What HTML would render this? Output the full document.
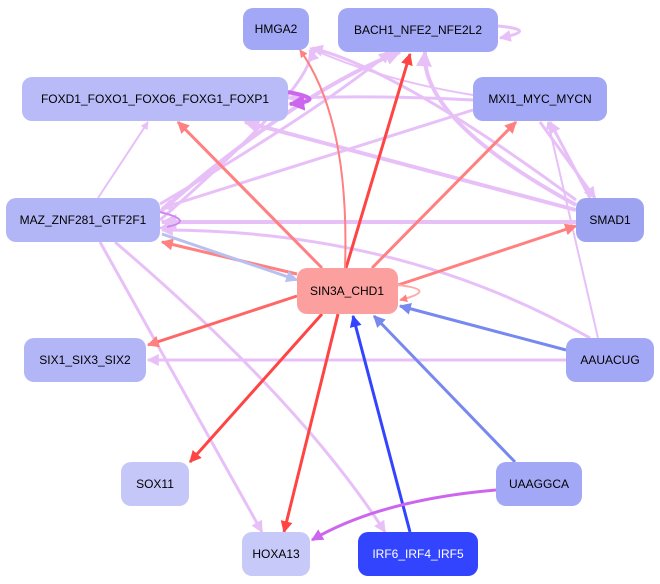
<!DOCTYPE html>
<html><head><style>
body{margin:0;background:#fff;}
svg{display:block;font-family:"Liberation Sans",sans-serif;}
text{font-size:12px;text-anchor:middle;dominant-baseline:central;}
</style></head><body>
<svg width="660" height="584" viewBox="0 0 660 584">
<defs>
<marker id="ap" viewBox="0 0 10 10" refX="9" refY="5" markerWidth="4" markerHeight="4" orient="auto"><path d="M0,0L10,5L0,10z" fill="#e8c0f8"/></marker>
<marker id="ar" viewBox="0 0 10 10" refX="9" refY="5" markerWidth="4" markerHeight="4" orient="auto"><path d="M0,0L10,5L0,10z" fill="#ff4444"/></marker>
<marker id="as" viewBox="0 0 10 10" refX="9" refY="5" markerWidth="4" markerHeight="4" orient="auto"><path d="M0,0L10,5L0,10z" fill="#ff8080"/></marker>
<marker id="ab" viewBox="0 0 10 10" refX="9" refY="5" markerWidth="4" markerHeight="4" orient="auto"><path d="M0,0L10,5L0,10z" fill="#3344ff"/></marker>
<marker id="am" viewBox="0 0 10 10" refX="9" refY="5" markerWidth="4" markerHeight="4" orient="auto"><path d="M0,0L10,5L0,10z" fill="#7788ee"/></marker>
<marker id="au" viewBox="0 0 10 10" refX="9" refY="5" markerWidth="4" markerHeight="4" orient="auto"><path d="M0,0L10,5L0,10z" fill="#cc66ee"/></marker>
<marker id="al" viewBox="0 0 10 10" refX="9" refY="5" markerWidth="4" markerHeight="4" orient="auto"><path d="M0,0L10,5L0,10z" fill="#b8c0f0"/></marker>
</defs>
<g fill="none" stroke="#e8c0f8" stroke-width="3" marker-end="url(#ap)">
<path d="M160,212 Q300,90 400,52" stroke-width="4"/>
<path d="M160,204 Q320,110 390,52"/>
<path d="M160,220 Q320,80 310,50" />
<path d="M576,205 Q420,120 425,52" stroke-width="4"/>
<path d="M576,200 Q400,70 312,48"/>
<path d="M473,95 Q380,80 310,48" stroke-width="2"/>
<path d="M576,210 L245,122" stroke-width="4"/>
<path d="M473,100 Q380,95 288,98"/>
<path d="M473,110 L162,208"/>
<path d="M576,222 L162,222" stroke-width="4"/>
<path d="M590,198 L550,122"/>
<path d="M540,122 L595,198"/>
<path d="M598,338 L548,122" stroke-width="2"/>
<path d="M566,360 L148,360"/>
<path d="M590,338 Q400,230 162,230"/>
<path d="M98,198 L148,122" stroke-width="2"/>
<path d="M100,242 L262,532"/>
<path d="M115,242 Q300,400 385,532"/>
<path d="M160,212 Q200,222 160,228" stroke="#cc88ee" stroke-width="2"/>
<path d="M498,26 Q540,30 500,38"/>
</g>
<path d="M288,92 Q330,100 290,104" fill="none" stroke="#cc66ee" stroke-width="4" marker-end="url(#au)"/>
<g fill="none" stroke-width="3">
<path d="M346,268 L410,54" stroke="#ff4444" marker-end="url(#ar)"/>
<path d="M338,314 L284,532" stroke="#ff4444" marker-end="url(#ar)"/>
<path d="M322,314 L190,462" stroke="#ff4444" marker-end="url(#ar)"/>
<path d="M345,268 Q350,120 300,50" stroke="#ff8080" stroke-width="2" marker-end="url(#as)"/>
<path d="M322,268 L178,122" stroke="#ff8080" marker-end="url(#as)"/>
<path d="M372,268 L516,122" stroke="#ff8080" marker-end="url(#as)"/>
<path d="M398,285 L576,226" stroke="#ff8080" marker-end="url(#as)"/>
<path d="M297,296 L148,345" stroke="#ff6666" marker-end="url(#as)"/>
<path d="M297,274 L162,242" stroke="#ff8080" marker-end="url(#as)"/>
<path d="M162,234 L297,280" stroke="#b8c0f0" marker-end="url(#al)"/>
<path d="M398,285 Q440,290 400,300" stroke="#ffaaaa" stroke-width="2" marker-end="url(#as)"/>
<path d="M410,532 L353,316" stroke="#3344ff" marker-end="url(#ab)"/>
<path d="M515,462 L374,316" stroke="#7788ee" marker-end="url(#am)"/>
<path d="M566,350 L400,306" stroke="#7788ee" marker-end="url(#am)"/>
<path d="M496,490 Q380,500 312,540" stroke="#cc66ee" marker-end="url(#au)"/>
</g>
<g>
<rect x="243" y="8" width="66" height="42" rx="10" fill="#a3a8f6"/><text x="276" y="29">HMGA2</text>
<rect x="338" y="8" width="160" height="44" rx="10" fill="#a3a8f6"/><text x="418" y="30">BACH1_NFE2_NFE2L2</text>
<rect x="22" y="77" width="266" height="44" rx="10" fill="#b8bbf7"/><text x="155" y="99">FOXD1_FOXO1_FOXO6_FOXG1_FOXP1</text>
<rect x="473" y="77" width="134" height="44" rx="10" fill="#a3a8f6"/><text x="540" y="99">MXI1_MYC_MYCN</text>
<rect x="6" y="198" width="154" height="44" rx="10" fill="#b3b6f6"/><text x="83" y="220">MAZ_ZNF281_GTF2F1</text>
<rect x="576" y="198" width="68" height="44" rx="10" fill="#9da3f0"/><text x="610" y="220">SMAD1</text>
<rect x="297" y="268" width="101" height="46" rx="10" fill="#fc9f9f"/><text x="347" y="291">SIN3A_CHD1</text>
<rect x="24" y="338" width="122" height="44" rx="10" fill="#b3b6f6"/><text x="85" y="360">SIX1_SIX3_SIX2</text>
<rect x="566" y="338" width="88" height="44" rx="10" fill="#a3a8f6"/><text x="610" y="360">AAUACUG</text>
<rect x="121" y="462" width="68" height="44" rx="10" fill="#c5c7f8"/><text x="155" y="484">SOX11</text>
<rect x="496" y="462" width="86" height="44" rx="10" fill="#a3a8f6"/><text x="539" y="484">UAAGGCA</text>
<rect x="242" y="532" width="68" height="44" rx="10" fill="#c7c9f9"/><text x="276" y="554">HOXA13</text>
<rect x="358" y="532" width="120" height="44" rx="10" fill="#3344ff"/><text x="418" y="554" fill="#fff">IRF6_IRF4_IRF5</text>
</g>
</svg>
</body></html>
